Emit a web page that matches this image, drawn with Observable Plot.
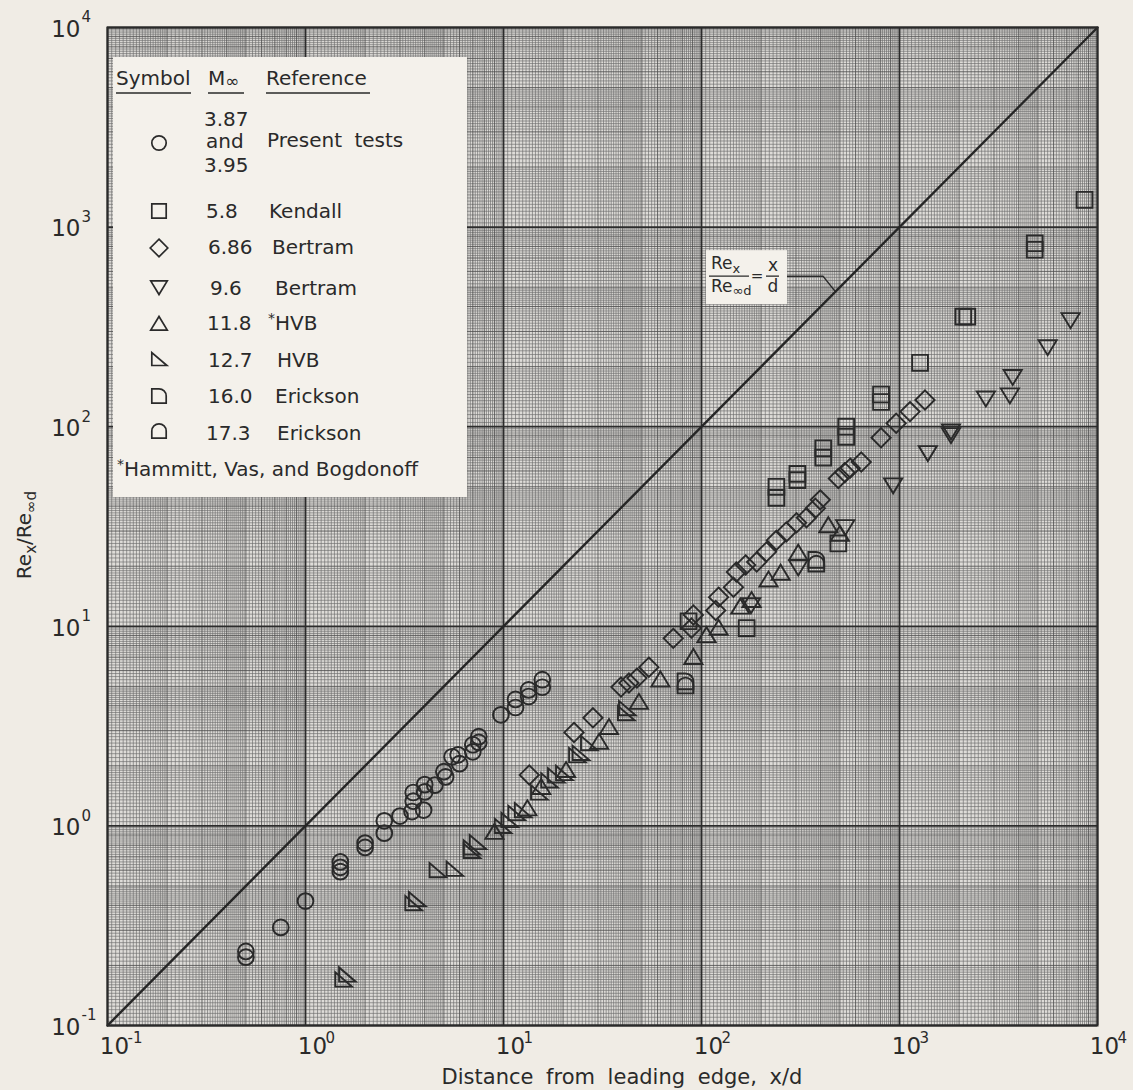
<!DOCTYPE html>
<html><head><meta charset="utf-8">
<script src="https://cdn.jsdelivr.net/npm/d3@7"></script>
<script src="https://cdn.jsdelivr.net/npm/@observablehq/plot@0.6"></script>
<style>
html,body{margin:0;padding:0;background:#f0ece5;}
#chart{width:1133px;height:1090px;}
</style></head><body><div id="chart"></div>
<script>
// ---------- axis ticks ----------
const decadeTicks = [0.1, 1, 10, 100, 1000, 10000];
const tickExponents = ["-1", "0", "1", "2", "3", "4"];
const equalityLine = [0.1, 10000];

// ---------- data (x/d, Re_x/Re_inf d) ----------
// Present tests, M = 3.87 and 3.95 (circles)
const presentX = [0.50,0.50,0.75,1.0,1.5,1.5,1.5,2.0,2.0,2.5,2.5,3.0,3.5,3.5,3.45,4.0,4.0,3.95,4.5,5.0,5.1,5.5,5.9,6.0,7.0,7.0,7.5,7.5,9.7,11.5,11.5,13.4,13.4,15.7,15.7];
const presentY = [0.235,0.22,0.31,0.42,0.66,0.62,0.59,0.82,0.78,1.06,0.92,1.12,1.47,1.33,1.18,1.61,1.48,1.20,1.60,1.87,1.76,2.22,2.27,2.05,2.55,2.35,2.80,2.62,3.6,4.3,3.92,4.8,4.45,5.4,4.95];
// Kendall, M = 5.8 (squares)
const kendallX = [86,169,239,239,305,305,412,412,491,538,538,807,807,1270,2100,2200,4820,4820,8600];
const kendallY = [10.6,9.8,50,44,58,54,78,70,26,100,89,145,133,209,356,356,830,770,1370];
// Bertram, M = 6.86 (diamonds)
const bertram686X = [13.5,22.7,28.3,39.2,43,47.2,54.2,72,89,91,118,122,145,150,167,190,213,239,268,302,339,376,398,491,530,564,641,807,962,1130,1345];
const bertram686Y = [1.80,2.94,3.48,4.96,5.2,5.5,6.24,8.7,9.8,11.4,12,14,15.7,18.7,20.3,21,23.6,27,29.7,33,35,39,43,55,59,62,66.5,88,104,119,136];
// Bertram, M = 9.6 (inverted triangles)
const bertram96X = [178,308,532,929,1390,1820,1820,2730,3610,3730,5600,7310];
const bertram96Y = [12.8,19.8,31.5,51,74,95,91,139,144,178,251,343];
// HVB, M = 11.8 (triangles)
const hvb118X = [9.0,13.2,15.5,20.7,30.4,34.1,48.3,62,91,106,122,157,179,218,251,308,437,500];
const hvb118Y = [0.93,1.22,1.56,1.90,2.63,3.12,4.17,5.4,7.0,9.0,9.8,12.5,13.5,17.1,18.5,23.3,32,29];
// HVB, M = 12.7 (right triangles)
const hvb127X = [1.55,1.62,3.5,3.65,4.64,5.65,6.9,6.9,7.4,9.9,10.7,11.6,12.5,15.1,17.0,18.4,20.2,23.5,24.5,27.0,41.5,42];
const hvb127Y = [0.17,0.18,0.41,0.43,0.60,0.61,0.78,0.75,0.83,1.0,1.07,1.16,1.2,1.47,1.69,1.79,1.84,2.26,2.32,2.6,3.67,3.89];
// Erickson, M = 16.0 (D shape)
const erick160X = [83,380];
const erick160Y = [5.3,21.5];
// Erickson, M = 17.3 (arch)
const erick173X = [83,380];
const erick173Y = [5.05,20.6];

// ---------- symbols ----------
function sym(fn){ return {draw(c, size){ const r = Math.sqrt(size/Math.PI); fn(c, r); }}; }
const symCircle = sym((c,r)=>{ c.moveTo(r,0); c.arc(0,0,r,0,2*Math.PI); });
const symSquare = sym((c,r)=>{ c.moveTo(-r,-r); c.lineTo(r,-r); c.lineTo(r,r); c.lineTo(-r,r); c.closePath(); });
const symDiamond = sym((c,r)=>{ const d=r*1.22; c.moveTo(0,-d); c.lineTo(d,0); c.lineTo(0,d); c.lineTo(-d,0); c.closePath(); });
const symTriDown = sym((c,r)=>{ const w=r*1.15; c.moveTo(-w,-r*0.85); c.lineTo(w,-r*0.85); c.lineTo(0,r*1.05); c.closePath(); });
const symTriUp = sym((c,r)=>{ const w=r*1.15; c.moveTo(-w,r*0.85); c.lineTo(w,r*0.85); c.lineTo(0,-r*1.05); c.closePath(); });
const symRightTri = sym((c,r)=>{ c.moveTo(-r,-r*0.9); c.lineTo(-r,r*0.9); c.lineTo(r*1.1,r*0.9); c.closePath(); });
const symD = sym((c,r)=>{ c.moveTo(-r,r); c.lineTo(-r,-r); c.lineTo(0,-r); c.arc(0,0,r,-Math.PI/2,0); c.lineTo(r,r); c.closePath(); });
const symArch = sym((c,r)=>{ c.moveTo(-r,r); c.lineTo(-r,0); c.arc(0,0,r,Math.PI,2*Math.PI); c.lineTo(r,r); c.closePath(); });

const series = [
  {x: presentX, y: presentY, symbol: symCircle},
  {x: kendallX, y: kendallY, symbol: symSquare},
  {x: bertram686X, y: bertram686Y, symbol: symDiamond},
  {x: bertram96X, y: bertram96Y, symbol: symTriDown},
  {x: hvb118X, y: hvb118Y, symbol: symTriUp},
  {x: hvb127X, y: hvb127Y, symbol: symRightTri},
  {x: erick160X, y: erick160Y, symbol: symD},
  {x: erick173X, y: erick173Y, symbol: symArch}
];

// ---------- log graph paper ----------
const fineGrid = [], midGrid = [];
for (const d of [0.1, 1, 10, 100, 1000]) {
  for (let k = 21; k < 40; k++) fineGrid.push(d * k * 0.05);
  for (let k = 21; k < 50; k++) if (k % 10 !== 0) fineGrid.push(d * k * 0.1);
  for (let k = 26; k < 50; k++) if (k % 5 !== 0) fineGrid.push(d * k * 0.2);
  for (let m = 2; m <= 9; m++) midGrid.push(d * m);
}

const INK = "#2a2a2a";
const FONT = "DejaVu Sans, Verdana, sans-serif";

const chart = Plot.plot({
  width: 1133, height: 1090,
  marginLeft: 107, marginRight: 36, marginTop: 27, marginBottom: 65,
  x: {type: "log", domain: [0.1, 1e4], axis: null},
  y: {type: "log", domain: [0.1, 1e4], axis: null},
  style: {background: "#f0ece5", fontFamily: FONT, color: INK},
  marks: [
    Plot.frame({fill: "#dedcd8"}),
    Plot.ruleX(fineGrid, {x: d => d, stroke: "#6c6c6c", strokeWidth: 0.65}),
    Plot.ruleY(fineGrid, {y: d => d, stroke: "#6c6c6c", strokeWidth: 0.65}),
    Plot.ruleX(midGrid, {x: d => d, stroke: "#505050", strokeWidth: 0.85}),
    Plot.ruleY(midGrid, {y: d => d, stroke: "#505050", strokeWidth: 0.85}),
    Plot.ruleX(decadeTicks, {x: d => d, stroke: "#2c2c2c", strokeWidth: 1.8}),
    Plot.ruleY(decadeTicks, {y: d => d, stroke: "#2c2c2c", strokeWidth: 1.8}),
    Plot.line(equalityLine, {x: d => d, y: d => d, stroke: "#262626", strokeWidth: 2.4}),
    ...series.map(s => Plot.dot(d3.range(s.x.length), {
      x: i => s.x[i], y: i => s.y[i], symbol: s.symbol, r: 7.9,
      fill: "none", stroke: INK, strokeWidth: 1.9
    })),
    Plot.frame({stroke: INK, strokeWidth: 2}),
    // x tick labels
    Plot.text(decadeTicks, {x: d => d, frameAnchor: "bottom", text: () => "10", dx: 7, dy: 28, fontSize: 23, fill: INK}),
    Plot.text(decadeTicks, {x: d => d, frameAnchor: "bottom", text: (d, i) => tickExponents[i], textAnchor: "start", dx: 20, dy: 17, fontSize: 15, fill: INK}),
    // y tick labels
    Plot.text(decadeTicks, {y: d => d, frameAnchor: "left", text: () => "10", textAnchor: "end", dx: -27, dy: 2, fontSize: 23, fill: INK}),
    Plot.text(decadeTicks, {y: d => d, frameAnchor: "left", text: (d, i) => tickExponents[i], textAnchor: "start", dx: -26, dy: -10, fontSize: 15, fill: INK})
  ]
});

document.getElementById("chart").appendChild(chart);

// ---------- decorations: titles, legend, annotation ----------
const svg = d3.select(chart);
const xs = chart.scale("x"), ys = chart.scale("y");

function text(g, x, y, s, o = {}) {
  return g.append("text").attr("x", x).attr("y", y)
    .attr("font-family", FONT).attr("font-size", o.size || 20)
    .attr("fill", INK).attr("text-anchor", o.anchor || "start")
    .style("word-spacing", o.ws || "0px").text(s);
}

// x-axis title
text(svg, 622, 1084, "Distance from leading edge, x/d", {size: 21, anchor: "middle", ws: "6px"});

// y-axis title
const yt = svg.append("text").attr("transform", "translate(31,535) rotate(-90)")
  .attr("text-anchor", "middle").attr("font-family", FONT).attr("font-size", 20).attr("fill", INK);
yt.append("tspan").text("Re");
yt.append("tspan").attr("dy", 5).attr("font-size", 15).text("x");
yt.append("tspan").attr("dy", -5).text("/Re");
yt.append("tspan").attr("dy", 5).attr("font-size", 15).text("\u221Ed");

// legend
const lg = svg.append("g");
lg.append("rect").attr("x", 113).attr("y", 57).attr("width", 354).attr("height", 440).attr("fill", "#f4f1eb");
text(lg, 116, 85, "Symbol");
const mh = text(lg, 208, 85, "M");
mh.append("tspan").attr("font-size", 17).attr("dy", 2).text("\u221E");
text(lg, 266, 85, "Reference");
[[116, 191], [208, 244], [266, 370]].forEach(([a, b]) =>
  lg.append("line").attr("x1", a).attr("x2", b).attr("y1", 93).attr("y2", 93).attr("stroke", INK).attr("stroke-width", 1.5));

const legendRows = [
  {s: symCircle, sy: 143, m: null, ref: "Present tests", rx: 267, ty: 147},
  {s: symSquare, sy: 211, m: "5.8", mx: 206, ref: "Kendall", rx: 269, ty: 218},
  {s: symDiamond, sy: 248, m: "6.86", mx: 208, ref: "Bertram", rx: 272, ty: 254},
  {s: symTriDown, sy: 287, m: "9.6", mx: 210, ref: "Bertram", rx: 275, ty: 295},
  {s: symTriUp, sy: 324, m: "11.8", mx: 207, ref: "*HVB", rx: 268, ty: 330},
  {s: symRightTri, sy: 359, m: "12.7", mx: 208, ref: "HVB", rx: 277, ty: 367},
  {s: symD, sy: 396, m: "16.0", mx: 208, ref: "Erickson", rx: 275, ty: 403},
  {s: symArch, sy: 431, m: "17.3", mx: 206, ref: "Erickson", rx: 277, ty: 440}
];
for (const row of legendRows) {
  lg.append("path").attr("d", d3.symbol(row.s, Math.PI * 7.2 * 7.2)())
    .attr("transform", `translate(159,${row.sy})`)
    .attr("fill", "none").attr("stroke", INK).attr("stroke-width", 1.7);
  if (row.m) text(lg, row.mx, row.ty, row.m);
  if (row.ref === "*HVB") {
    const t = text(lg, row.rx, row.ty, "");
    t.append("tspan").attr("font-size", 14).attr("dy", -7).text("*");
    t.append("tspan").attr("dy", 7).text("HVB");
  } else {
    text(lg, row.rx, row.ty, row.ref, {ws: "6px"});
  }
}
text(lg, 204, 126, "3.87");
text(lg, 206, 148, "and");
text(lg, 204, 172, "3.95");
{
  const t = text(lg, 117, 476, "");
  t.append("tspan").attr("font-size", 14).attr("dy", -7).text("*");
  t.append("tspan").attr("dy", 7).text("Hammitt, Vas, and Bogdonoff");
}

// annotation on the equality line
const tv = 475;
const tx = xs.apply(tv), ty = ys.apply(tv);
const an = svg.append("g").attr("transform", `translate(${tx},${ty})`);
an.append("polyline").attr("points", "-48,-15 -12,-15 0,0").attr("fill", "none").attr("stroke", INK).attr("stroke-width", 1.5);
an.append("rect").attr("x", -129).attr("y", -41).attr("width", 81).attr("height", 54).attr("fill", "#f4f1eb");
{
  const n = text(an, -124, -22, "Re", {size: 17});
  n.append("tspan").attr("dy", 4).attr("font-size", 13).text("x");
  an.append("line").attr("x1", -126).attr("x2", -86).attr("y1", -15).attr("y2", -15).attr("stroke", INK).attr("stroke-width", 1.3);
  const dd = text(an, -124, 1, "Re", {size: 17});
  dd.append("tspan").attr("dy", 3).attr("font-size", 13).text("\u221Ed");
  text(an, -78, -10, "=", {size: 15, anchor: "middle"});
  text(an, -62, -20, "x", {size: 17, anchor: "middle"});
  an.append("line").attr("x1", -69).attr("x2", -56).attr("y1", -15).attr("y2", -15).attr("stroke", INK).attr("stroke-width", 1.3);
  text(an, -62, 1, "d", {size: 17, anchor: "middle"});
}
</script>
</body></html>
